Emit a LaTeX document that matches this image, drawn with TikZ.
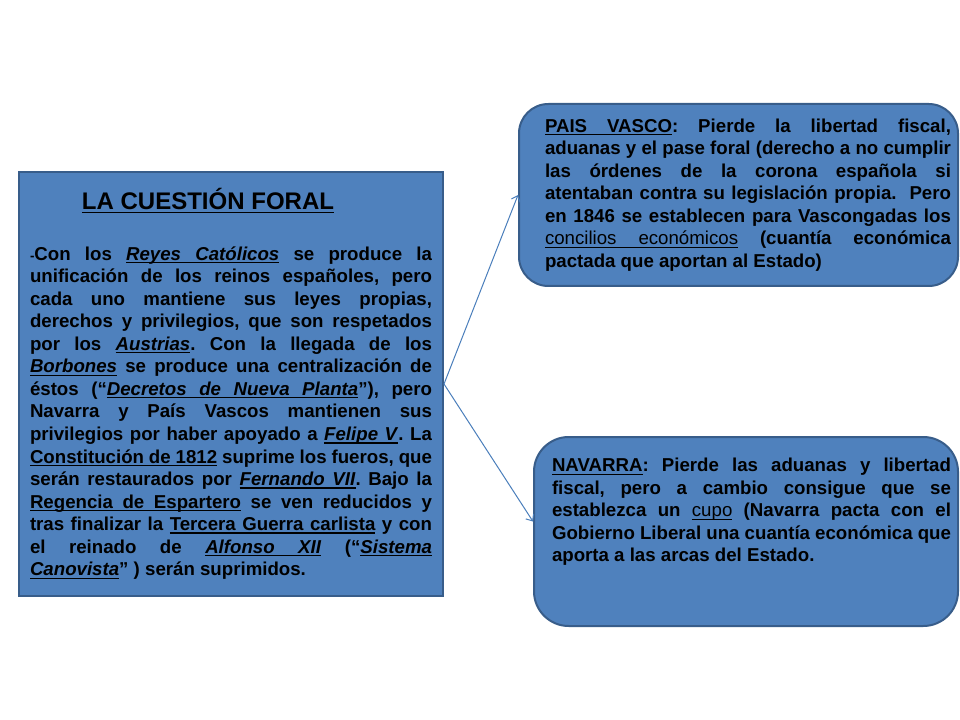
\documentclass[tikz,border=0pt]{standalone}
\usepackage{fontspec}
\setmainfont{Liberation Sans}
\setlength{\parindent}{0pt}
\frenchspacing
\usepackage{xcolor}
\usetikzlibrary{arrows.meta,positioning,calc}
\definecolor{boxblue}{HTML}{4F81BD}
\definecolor{boxedge}{HTML}{385D8A}
\definecolor{linkblue}{HTML}{4A7EBB}
% underlined word and underlined (stretchable) space
\newcommand{\ulw}[1]{\leavevmode\setbox0\hbox{#1}\rlap{\rule[-2.3pt]{\wd0}{0.9pt}}\box0\relax}
\newcommand{\ulsp}{\leaders\hrule height -1.4pt depth 2.3pt\hskip\fontdimen2\font plus\fontdimen3\font minus\fontdimen4\font\relax}

\begin{document}
\begin{tikzpicture}[x=0.75pt, y=-0.75pt,
    box/.style={draw=boxedge, line width=1.5pt, fill=boxblue, inner sep=0pt, align=justify,
                font=\bfseries\fontsize{14}{16.9}\selectfont},
    link/.style={draw=linkblue, line width=0.75pt, -{Straight Barb[length=4pt,width=7pt]}}]
    \useasboundingbox (0,0) rectangle (960,720);

    % Left box
    \node[box, anchor=north west, minimum width=318pt, minimum height=318pt, text width=301.5pt] (foral) at (18,171)
    {{\fontsize{18}{20}\selectfont\hspace*{39pt}\ulw{LA}\ulsp\ulw{CUESTIÓN}\ulsp\ulw{FORAL}\par}\vspace{21pt}
     {\fontsize{10}{12}\selectfont -}Con los \ulw{\textit{Reyes}}\ulsp\ulw{\textit{Católicos}} se produce la\linebreak
     unificación de los reinos españoles, pero\linebreak
     cada uno mantiene sus leyes propias,\linebreak
     derechos y privilegios, que son respetados\linebreak
     por los \ulw{\textit{Austrias}}. Con la llegada de los\linebreak
     \ulw{\textit{Borbones}} se produce una centralización de\linebreak
     éstos (“\ulw{\textit{Decretos}}\ulsp\ulw{\textit{de}}\ulsp\ulw{\textit{Nueva}}\ulsp\ulw{\textit{Planta}}”), pero\linebreak
     Navarra y País Vascos mantienen sus\linebreak
     privilegios por haber apoyado a \ulw{\textit{Felipe}}\ulsp\ulw{\textit{V}}. La\linebreak
     \ulw{Constitución}\ulsp\ulw{de}\ulsp\ulw{1812} suprime los fueros, que\linebreak
     serán restaurados por \ulw{\textit{Fernando}}\ulsp\ulw{\textit{VII}}. Bajo la\linebreak
     \ulw{Regencia}\ulsp\ulw{de}\ulsp\ulw{Espartero} se ven reducidos y\linebreak
     tras finalizar la \ulw{Tercera}\ulsp\ulw{Guerra}\ulsp\ulw{carlista} y con\linebreak
     el reinado de \ulw{\textit{Alfonso}}\ulsp\ulw{\textit{XII}} (“\ulw{\textit{Sistema}}\linebreak
     \ulw{\textit{Canovista}}” ) serán suprimidos.};

    % Right boxes
    \node[box, rounded corners=22pt, anchor=north west, minimum width=329.25pt, minimum height=136.5pt] (pv) at (518,103)
    {\hspace*{14.25pt}\parbox{304.5pt}{%
     \ulw{PAIS}\ulsp\ulw{VASCO}: Pierde la libertad fiscal,\linebreak
     aduanas y el pase foral (derecho a no cumplir\linebreak
     las órdenes de la corona española si\linebreak
     atentaban contra su legislación propia.~ Pero\linebreak
     en 1846 se establecen para Vascongadas los\linebreak
     {\mdseries\ulw{concilios}\ulsp\ulw{económicos}} (cuantía económica\linebreak
     pactada que aportan al Estado)}};

    \node[box, rounded corners=26pt, anchor=north west, minimum width=318pt, minimum height=141.75pt] (nav) at (533,436)
    {\hspace*{8.25pt}\parbox[c][110pt][t]{299.25pt}{%
     \ulw{NAVARRA}: Pierde las aduanas y libertad\linebreak
     fiscal, pero a cambio consigue que se\linebreak
     establezca un {\mdseries\ulw{cupo}} (Navarra pacta con el\linebreak
     Gobierno Liberal una cuantía económica que\linebreak
     aporta a las arcas del Estado.}};

    % Links
    \draw[link] (foral.east) -- (pv.west);
    \draw[link] (foral.east) -- ([yshift=7.5pt]nav.west);
\end{tikzpicture}
\end{document}
